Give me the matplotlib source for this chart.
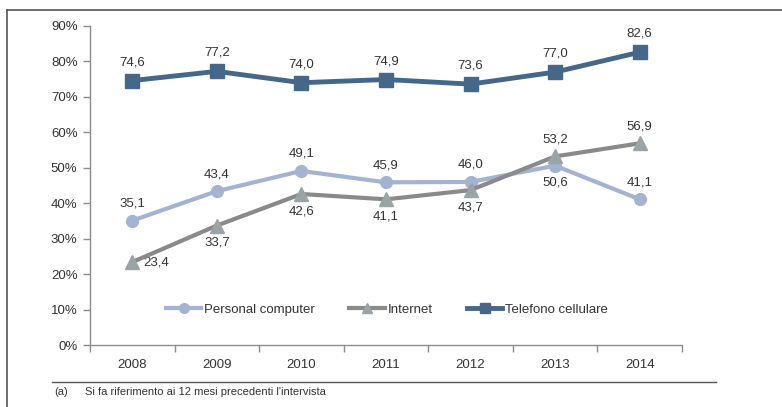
import matplotlib
matplotlib.use("Agg")
import matplotlib.pyplot as plt
from matplotlib.lines import Line2D
from matplotlib.font_manager import fontManager

names = {f.name for f in fontManager.ttflist}
fam = ['Liberation Sans Narrow', 'Liberation Sans', 'DejaVu Sans'] if 'Liberation Sans Narrow' in names else ['Liberation Sans', 'DejaVu Sans']
plt.rcParams['font.family'] = fam

years = ['2008', '2009', '2010', '2011', '2012', '2013', '2014']
pc = [35.1, 43.4, 49.1, 45.9, 46.0, 50.6, 41.1]
internet = [23.4, 33.7, 42.6, 41.1, 43.7, 53.2, 56.9]
cell = [74.6, 77.2, 74.0, 74.9, 73.6, 77.0, 82.6]
yticks = [0, 10, 20, 30, 40, 50, 60, 70, 80, 90]
series_names = ['Personal computer', 'Internet', 'Telefono cellulare']
footnote_mark = '(a)'
footnote_text = "Si fa riferimento ai 12 mesi precedenti l'intervista"

c_pc = '#A3B3D1'
c_int = '#8A8A8A'
c_int_m = '#9AA4A7'
c_cell = '#44678A'
txt = '#333333'
axc = '#8C8C8C'

fig = plt.figure(figsize=(7.82, 4.07), dpi=100)
W, H = 782, 407
ax = fig.add_axes([90 / W, 1 - 345 / H, (682 - 90) / W, (345 - 26) / H])

x = list(range(len(years)))
ax.plot(x, pc, color=c_pc, lw=3, marker='o', ms=8.5, mfc=c_pc, mec=c_pc, zorder=3)
ax.plot(x, internet, color=c_int, lw=3, marker='^', ms=10, mfc=c_int_m, mec=c_int_m, zorder=4)
ax.plot(x, cell, color=c_cell, lw=3.5, marker='s', ms=9.5, mfc=c_cell, mec=c_cell, zorder=5)

fs = 9.5
def lab(s):
    return f"{s:.1f}".replace('.', ',')

for i, v in enumerate(cell):
    ax.annotate(lab(v), (i, v), xytext=(0, 9), textcoords='offset points', ha='center', va='bottom', fontsize=fs, color=txt)
for i, v in enumerate(pc):
    if i == 5:
        ax.annotate(lab(v), (i, v), xytext=(0, -8), textcoords='offset points', ha='center', va='top', fontsize=fs, color=txt)
    else:
        ax.annotate(lab(v), (i, v), xytext=(0, 8), textcoords='offset points', ha='center', va='bottom', fontsize=fs, color=txt)
for i, v in enumerate(internet):
    if i == 0:
        ax.annotate(lab(v), (i, v), xytext=(8, 0), textcoords='offset points', ha='left', va='center', fontsize=fs, color=txt)
    elif i >= 5:
        ax.annotate(lab(v), (i, v), xytext=(0, 8), textcoords='offset points', ha='center', va='bottom', fontsize=fs, color=txt)
    else:
        ax.annotate(lab(v), (i, v), xytext=(0, -8), textcoords='offset points', ha='center', va='top', fontsize=fs, color=txt)

ax.set_xlim(-0.5, len(years) - 0.5)
ax.set_ylim(0, 90)
ax.set_yticks(yticks)
ax.set_yticklabels([f"{t}%" for t in yticks])
ax.set_xticks(x)
ax.set_xticklabels(years)
ax.set_xticks([i - 0.5 for i in range(len(years) + 1)], minor=True)
ax.tick_params(axis='x', which='major', length=0, pad=10, labelsize=fs, colors=txt)
ax.tick_params(axis='x', which='minor', length=5, width=1, color=axc, direction='out')
ax.tick_params(axis='y', length=5, width=1, color=axc, labelsize=fs, labelcolor=txt, pad=4)
for s in ['top', 'right']:
    ax.spines[s].set_visible(False)
for s in ['left', 'bottom']:
    ax.spines[s].set_color(axc)
    ax.spines[s].set_linewidth(1)

handles = [
    Line2D([], [], color=c_pc, lw=3, marker='o', ms=7, mfc=c_pc, mec=c_pc),
    Line2D([], [], color=c_int, lw=3, marker='^', ms=7, mfc=c_int_m, mec=c_int_m),
    Line2D([], [], color=c_cell, lw=3.5, marker='s', ms=7, mfc=c_cell, mec=c_cell),
]
leg = ax.legend(handles, series_names, loc='center left', bbox_to_anchor=(0.108, 0.11), ncol=3,
                frameon=False, fontsize=fs, handlelength=2.7, handletextpad=0.2,
                columnspacing=2.6, labelcolor=txt)

# outer frame lines
fig.add_artist(Line2D([7 / W, 7 / W], [0, 1 - 10 / H], color='#555555', lw=1.2, transform=fig.transFigure))
fig.add_artist(Line2D([7 / W, 1], [1 - 10 / H, 1 - 10 / H], color='#555555', lw=1.2, transform=fig.transFigure))
# footnote line
fig.add_artist(Line2D([52 / W, 716 / W], [1 - 382 / H, 1 - 382 / H], color='#555555', lw=1, transform=fig.transFigure))
fig.text(54 / W, 1 - 392 / H, footnote_mark, fontsize=8, color=txt, va='center', ha='left')
fig.text(85 / W, 1 - 392 / H, footnote_text, fontsize=8, color=txt, va='center', ha='left')

fig.savefig('out.png', dpi=100)
